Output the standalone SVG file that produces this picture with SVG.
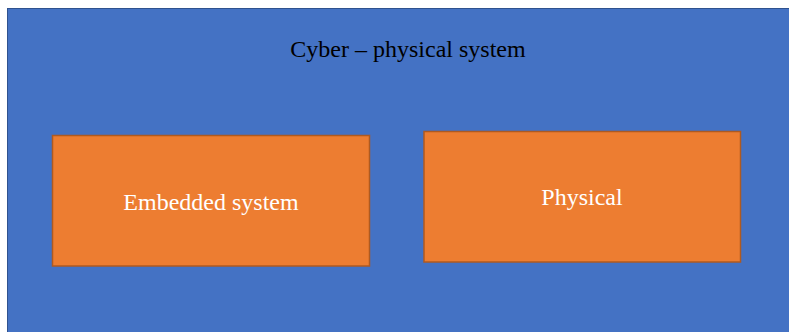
<svg xmlns="http://www.w3.org/2000/svg" width="789" height="332" viewBox="0 0 789 332">
  <style>
    .frame { fill: #4472C4; stroke: #2F528F; stroke-width: 1; }
    .box { fill: #ED7D31; stroke: #AE5A21; stroke-width: 1.5; }
    .title { font-family: "Liberation Serif", serif; font-size: 24px; fill: #000000; text-anchor: middle; }
    .label { font-family: "Liberation Serif", serif; font-size: 24px; fill: #FFFFFF; text-anchor: middle; }
  </style>
  <rect width="789" height="332" fill="#FFFFFF"/>
  <g id="cps">
    <rect class="frame" x="7.5" y="8.5" width="790" height="330"/>
    <text class="title" x="408" y="57">Cyber – physical system</text>
  </g>
  <g id="embedded">
    <rect class="box" x="52.5" y="135.5" width="317" height="130.5"/>
    <text class="label" x="211" y="210">Embedded system</text>
  </g>
  <g id="physical">
    <rect class="box" x="424" y="131.5" width="316.5" height="130.5"/>
    <text class="label" x="582" y="205">Physical</text>
  </g>
  <g id="connectors"/>
</svg>
